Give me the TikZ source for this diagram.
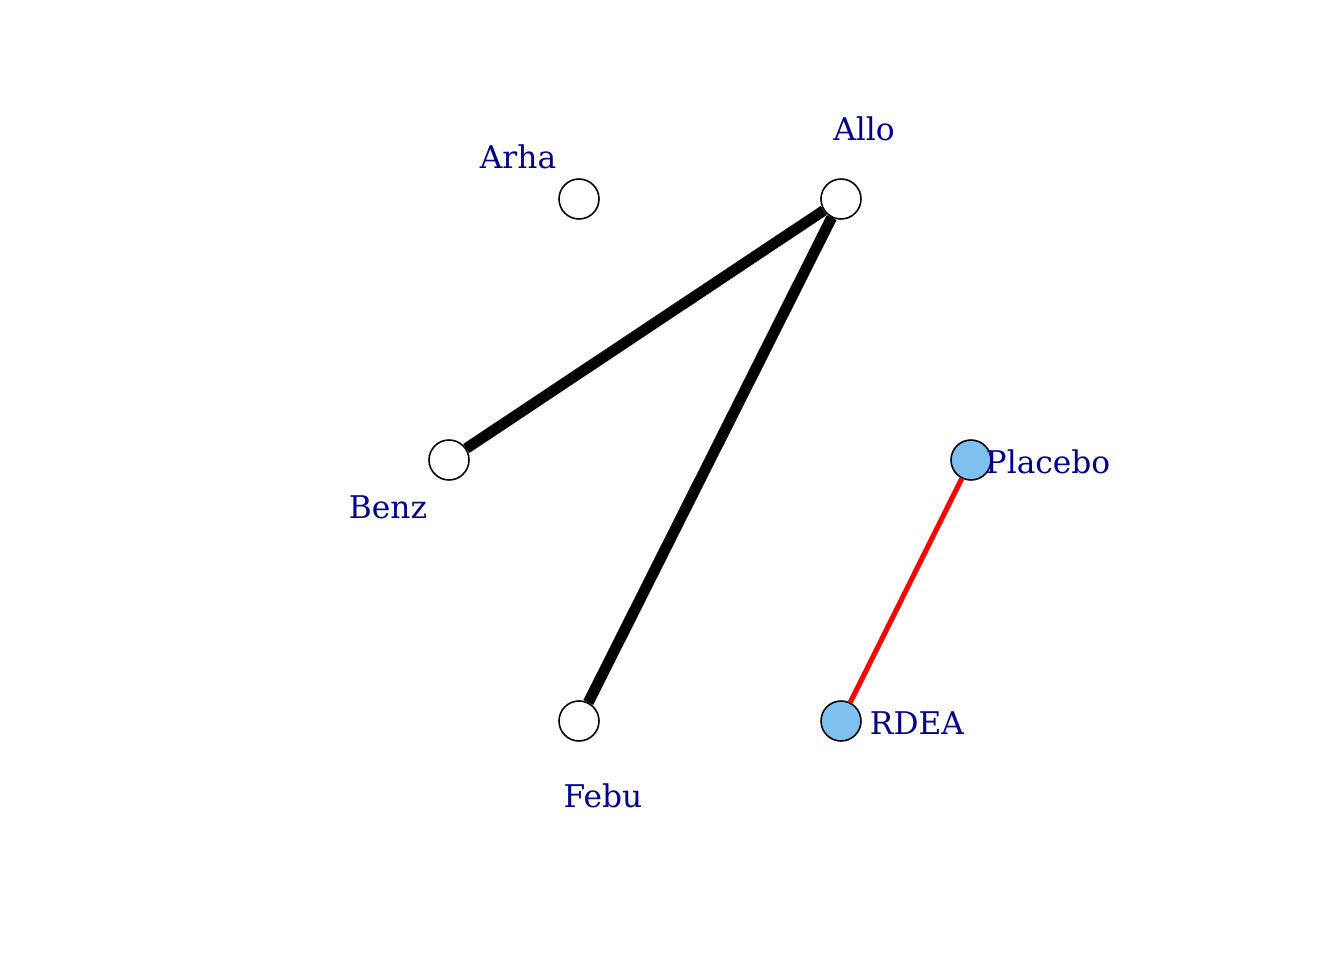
\documentclass[tikz,border=0pt]{standalone}
\usepackage{fontspec}
\setmainfont{DejaVu Serif}
\definecolor{labelblue}{HTML}{00008B}
\definecolor{nodeblue}{HTML}{7EC0EE}
\begin{document}
\begin{tikzpicture}[x=1cm, y=1cm]
			\useasboundingbox (0,0) rectangle (13.44,9.6);
			\tikzset{
				trt/.style={circle, draw, line width=0.45pt, minimum size=0.4cm, inner sep=0pt},
				lbl/.style={text=labelblue, font=\fontsize{8.9}{10}\selectfont, inner sep=0pt}
			}
			% Define nodes
			\node[trt, fill=white] (arha) at (5.79,7.61) {};     % Arha
			\node[trt, fill=white] (allo) at (8.41,7.61) {};     % Allo
			\node[trt, fill=white] (benz) at (4.49,5.00) {};     % Benz
			\node[trt, fill=nodeblue] (placebo) at (9.71,5.00) {}; % Placebo
			\node[trt, fill=white] (febu) at (5.79,2.39) {};     % Febu
			\node[trt, fill=nodeblue] (rdea) at (8.41,2.39) {};  % RDEA
			
			% Connect nodes
			\draw[line width=3.1pt] (allo) -- (benz);
			\draw[line width=3.1pt] (allo) -- (febu);
			\draw[red, line width=1.45pt] (placebo) -- (rdea);
			
			% Labels
			\node[lbl] (arhalabel) at (5.18,8.03) {Arha};
			\node[lbl] (allolabel) at (8.64,8.31) {Allo};
			\node[lbl] (benzlabel) at (3.88,4.53) {Benz};
			\node[lbl] (placebolabel) at (10.48,4.98) {Placebo};
			\node[lbl] (febulabel) at (6.03,1.64) {Febu};
			\node[lbl] (rdealabel) at (9.17,2.37) {RDEA};
		\end{tikzpicture}
\end{document}
